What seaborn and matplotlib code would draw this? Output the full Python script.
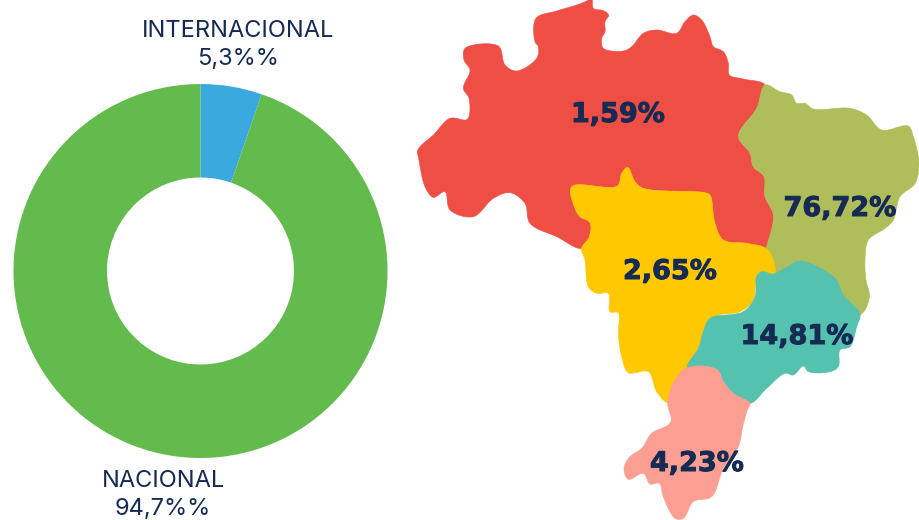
import numpy as np
import matplotlib
matplotlib.use("Agg")
import matplotlib.pyplot as plt
import matplotlib.patheffects as pe
import seaborn as sns

# Donut data
origin_labels = ["INTERNACIONAL\n5,3%%", "NACIONAL\n94,7%%"]
origin_shares = [5.3, 94.7]
origin_colors = ["#39A9E0", "#62BB4C"]

# Regional data
region_names = ["Norte", "Nordeste", "Centro-Oeste", "Sudeste", "Sul"]
region_shares = ["1,59%", "76,72%", "2,65%", "14,81%", "4,23%"]
region_colors = ["#EF4E45", "#AFBE5B", "#FFC800", "#55C1AF", "#FC9E92"]
region_label_xy = [(618, 115), (840, 209), (670, 272), (797, 337), (697, 464)]

# Map outlines in reference pixels
def z1(p): return [(410 + x / 3, y / 3) for x, y in p]
def z2(p): return [(560 + x / 3, 80 + y / 3) for x, y in p]
def z3(p): return [(600 + x / 3, 260 + y / 3) for x, y in p]

north = z1([(500,15),(530,3),(545,-6),(550,25),(580,32),(596,45),(585,65),(585,95),(575,115),(580,145),
            (640,153),(665,140),(700,100),(740,90),(800,100),(825,65),(850,45),(875,60),(900,110),(910,140),
            (940,155),(955,190),(958,225),(1000,237),(1065,255)]) + \
        z2([(590,85),(535,168),(570,220),(580,260),(612,290),(615,350),(640,405),(618,505),(560,490),(490,480),
            (465,430),(450,345),(435,338),(250,325),(225,305),(203,262),(185,280),(172,318),(35,320),(45,385),
            (60,410),(90,428),(88,470),(65,505)]) + \
        z1([(440,710),(360,670),(345,610),(300,578),(250,595),(190,650),(120,630),(105,575),(70,592),(45,560),
            (25,470),(22,455),(30,440),(70,405),(120,355),(172,358),(177,295),(160,265),(180,210),(162,180),
            (165,145),(265,138),(285,195),(320,213),(380,175),(385,140),(375,125),(378,55),(440,33)])

northeast = z2([(615,15),(660,35),(695,45),(710,70),(735,70),(760,87),(870,85),(920,105),(965,150),(1045,138),
                (1060,170),(1077,250),(1065,310),(1020,350),(1000,420),(975,445),(925,480),(915,540),(918,600),
                (928,650),(903,703),(800,720),(700,680),(620,640),(600,560),(618,505),
                (640,405),(615,350),(612,290),(580,260),(570,220),(535,168),(590,85)])

midwest = z2([(618,505),(640,540),(643,582),(600,575),(588,600),(580,660),(540,695),(470,708),(435,750)]) + \
          z3([(310,215),(295,265),(262,323),(225,360),(203,427),(170,395),(145,335),(85,338),(65,290),(55,225),
              (55,158),(30,155),(25,100)]) + \
          z2([(110,640),(85,620),(75,540),(65,505),(88,470),(90,428),(60,410),(45,385),(35,320),(172,318),
              (185,280),(203,262),(225,305),(250,325),(435,338),(450,345),(465,430),(490,480),(560,490)])

southeast = z3([(600,3),(705,55),(730,105),(780,162),(770,200),(750,260),(720,270),(715,320),(690,335),(625,335),
                (610,318),(580,345),(555,340),(500,385),(450,430),(400,400),(370,365),(350,328),(262,323),(295,265),
                (310,215),(330,175),(430,155),(465,110),(470,50),(485,35),(520,42),(560,22)])

south = z3([(262,323),(350,328),(370,365),(400,400),(450,430),(442,450),(428,500),(415,560),(370,625),(335,710),
            (280,725),(250,775),(225,775),(190,710),(178,670),(150,672),(130,640),(85,658),(72,625),(90,590),
            (125,565),(155,520),(212,487),(203,427),(225,360)])

region_outlines = [north, northeast, midwest, southeast, south]


def smooth(points, n=12):
    """Closed centripetal Catmull-Rom curve through the outline points."""
    p = np.asarray(points, float)
    m = len(p)
    out = []
    for i in range(m):
        p0, p1, p2, p3 = p[i - 1], p[i], p[(i + 1) % m], p[(i + 2) % m]
        t1 = np.linalg.norm(p1 - p0) ** 0.5 + 1e-6
        t2 = t1 + np.linalg.norm(p2 - p1) ** 0.5 + 1e-6
        t3 = t2 + np.linalg.norm(p3 - p2) ** 0.5 + 1e-6
        for t in np.linspace(t1, t2, n, endpoint=False):
            a1 = (t1 - t) / t1 * p0 + t / t1 * p1
            a2 = (t2 - t) / (t2 - t1) * p1 + (t - t1) / (t2 - t1) * p2
            a3 = (t3 - t) / (t3 - t2) * p2 + (t - t2) / (t3 - t2) * p3
            b1 = (t2 - t) / t2 * a1 + t / t2 * a2
            b2 = (t3 - t) / (t3 - t1) * a2 + (t - t1) / (t3 - t1) * a3
            out.append((t2 - t) / (t2 - t1) * b1 + (t - t1) / (t2 - t1) * b2)
    return np.array(out)


sns.set_theme(style="white")
plt.rcParams["font.family"] = ["Inter", "DejaVu Sans"]
TEXT = "#152B54"
W, H = 919, 520

fig = plt.figure(figsize=(W / 100, H / 100), dpi=100, facecolor="white")
ax = fig.add_axes([0, 0, 1, 1])
ax.set_xlim(0, W)
ax.set_ylim(H, 0)
ax.axis("off")

# Map
for outline, colour, name in zip(region_outlines, region_colors, region_names):
    xy = smooth(outline)
    ax.fill(xy[:, 0], xy[:, 1], color=colour, lw=0.4, label=name, zorder=2)
for (x, y), text in zip(region_label_xy, region_shares):
    ax.text(x, y, text, ha="center", va="center", fontsize=19.5, fontweight="bold",
            family="DejaVu Sans", color=TEXT, zorder=3,
            path_effects=[pe.withStroke(linewidth=0.7, foreground=TEXT)])

# Donut
cx, cy, r = 200.5, 271, 187
axd = fig.add_axes([(cx - r) / W, 1 - (cy + r) / H, 2 * r / W, 2 * r / H])
axd.pie(origin_shares, colors=sns.color_palette(origin_colors), startangle=90, counterclock=False,
        radius=1, wedgeprops=dict(width=0.5, linewidth=0))
axd.set_xlim(-1, 1)
axd.set_ylim(-1, 1)
axd.axis("off")

ax2 = fig.add_axes([0, 0, 1, 1], facecolor="none")
ax2.set_xlim(0, W)
ax2.set_ylim(H, 0)
ax2.axis("off")
for (x, y), text in zip([(238, 45), (163, 495)], origin_labels):
    ax2.text(x, y, text, ha="center", va="center", fontsize=17, color=TEXT, linespacing=1.32)

fig.savefig("out.png", dpi=100)
